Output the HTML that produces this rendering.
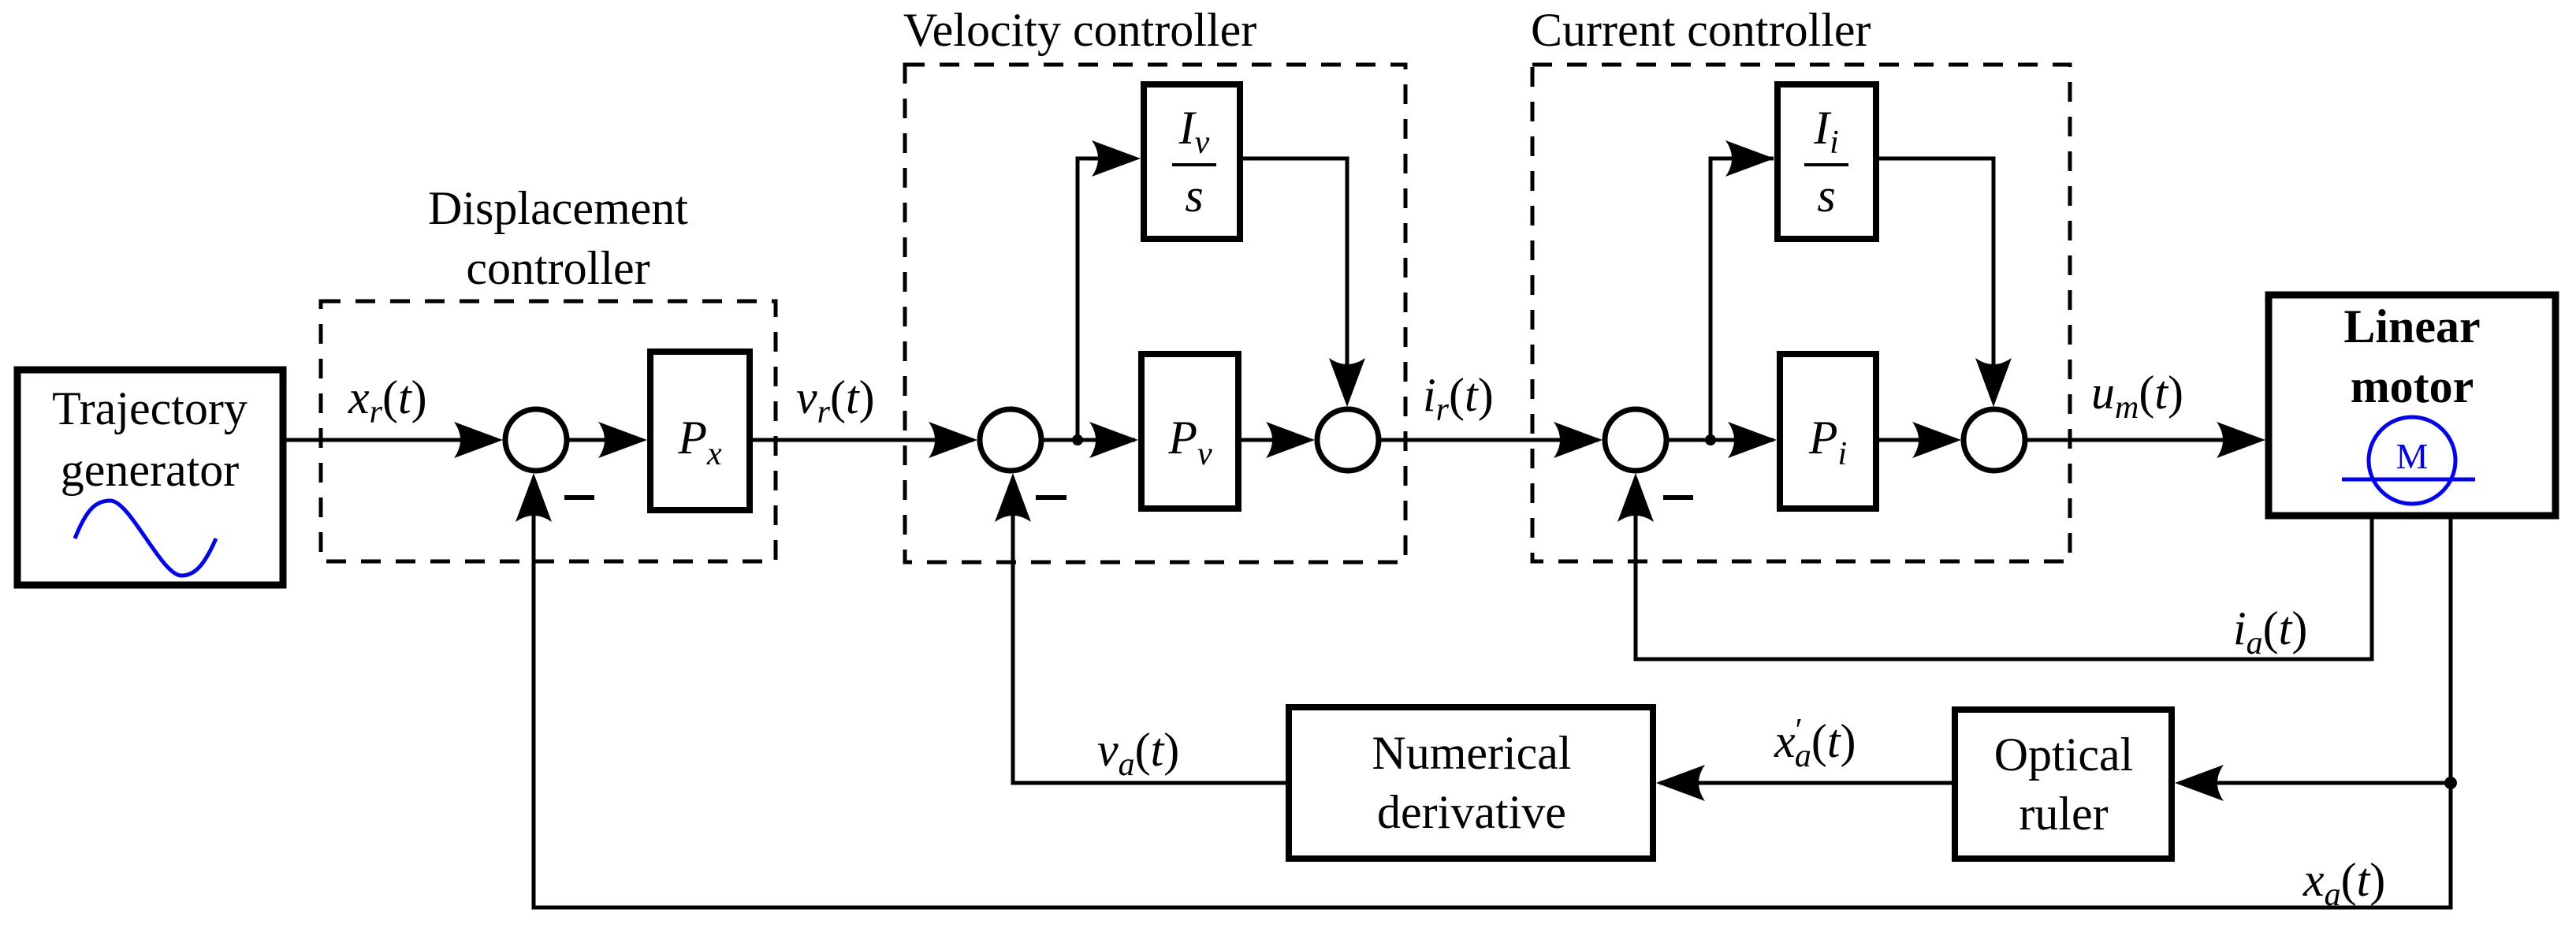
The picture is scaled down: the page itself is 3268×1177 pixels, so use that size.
<!DOCTYPE html>
<html><head><meta charset="utf-8"><style>
html,body{margin:0;padding:0;background:#fff;}
svg{display:block;}
svg, text, tspan{font-family:"Liberation Serif","DejaVu Serif",serif;}
text{fill:#000;}
.m{font-style:italic;}
.u{font-style:normal;}
</style></head><body>
<svg width="3268" height="1177" viewBox="0 0 3268 1177" xmlns="http://www.w3.org/2000/svg" font-family="Liberation Serif, DejaVu Serif, serif">
<defs>
<path id="ah" d="M0,0 L-62,-23 Q-46,0 -62,23 Z" fill="#000"/>
</defs>
<rect width="3268" height="1177" fill="#fff"/>

<g fill="none" stroke="#000" stroke-width="5" stroke-dasharray="25,19">
<rect x="407" y="382" width="577" height="330"/>
<rect x="1148" y="82" width="635" height="631"/>
<rect x="1944" y="82" width="682" height="630"/>
</g>

<g fill="none" stroke="#000">
<rect x="22" y="469" width="337" height="273" stroke-width="9"/>
<rect x="825" y="446" width="126" height="201" stroke-width="8"/>
<rect x="1451" y="107" width="122" height="196" stroke-width="8"/>
<rect x="1448" y="449" width="123" height="196" stroke-width="8"/>
<rect x="2255" y="107" width="125" height="196" stroke-width="8"/>
<rect x="2258" y="449" width="122" height="196" stroke-width="8"/>
<rect x="2878" y="374" width="364" height="280" stroke-width="9"/>
<rect x="2480" y="900" width="275" height="189" stroke-width="8"/>
<rect x="1635" y="897" width="462" height="192" stroke-width="8"/>
<circle cx="680" cy="558" r="39" stroke-width="7"/>
<circle cx="1282" cy="558" r="39" stroke-width="7"/>
<circle cx="1710" cy="558" r="39" stroke-width="7"/>
<circle cx="2075" cy="558" r="39" stroke-width="7"/>
<circle cx="2530" cy="558" r="39" stroke-width="7"/>
</g>

<g fill="none" stroke="#000" stroke-width="5">
<line x1="363" y1="558" x2="630" y2="558"/>
<line x1="722" y1="558" x2="815" y2="558"/>
<line x1="955" y1="558" x2="1235" y2="558"/>
<line x1="1324" y1="558" x2="1440" y2="558"/>
<polyline points="1367,558 1367,201 1440,201"/>
<line x1="1575" y1="558" x2="1660" y2="558"/>
<polyline points="1577,201 1709,201 1709,510"/>
<line x1="1752" y1="558" x2="2028" y2="558"/>
<line x1="2117" y1="558" x2="2250" y2="558"/>
<polyline points="2170,558 2170,201 2250,201"/>
<line x1="2384" y1="558" x2="2482" y2="558"/>
<polyline points="2384,201 2529,201 2529,510"/>
<line x1="2572" y1="558" x2="2868" y2="558"/>
<polyline points="3009,658 3009,836 2075,836 2075,606"/>
<polyline points="3109,658 3109,1151 677,1151 677,606"/>
<line x1="3109" y1="993" x2="2766" y2="993"/>
<line x1="2476" y1="993" x2="2106" y2="993"/>
<polyline points="1631,993 1285,993 1285,606"/>
</g>
<g fill="#000">
<circle cx="1367" cy="558" r="7"/>
<circle cx="2170" cy="558" r="7"/>
<circle cx="3109" cy="993" r="8"/>
<use href="#ah" transform="translate(638,558)"/>
<use href="#ah" transform="translate(821,558)"/>
<use href="#ah" transform="translate(1240,558)"/>
<use href="#ah" transform="translate(1444,558)"/>
<use href="#ah" transform="translate(1447,201)"/>
<use href="#ah" transform="translate(1668,558)"/>
<use href="#ah" transform="translate(1709,516) rotate(90)"/>
<use href="#ah" transform="translate(2033,558)"/>
<use href="#ah" transform="translate(2254,558)"/>
<use href="#ah" transform="translate(2251,201)"/>
<use href="#ah" transform="translate(2488,558)"/>
<use href="#ah" transform="translate(2529,516) rotate(90)"/>
<use href="#ah" transform="translate(2874,558)"/>
<use href="#ah" transform="translate(2075,600) rotate(-90)"/>
<use href="#ah" transform="translate(677,600) rotate(-90)"/>
<use href="#ah" transform="translate(1285,600) rotate(-90)"/>
<use href="#ah" transform="translate(2759,993) rotate(180)"/>
<use href="#ah" transform="translate(2101,993) rotate(180)"/>
<rect x="716" y="628" width="38" height="6"/>
<rect x="1314" y="628" width="39" height="6"/>
<rect x="2110" y="628" width="38" height="6"/>
</g>

<path d="M95,683 C110,645 122,635 140,635 C165,635 205,730 230,730 C248,730 260,715 274,683" fill="none" stroke="#0000ff" stroke-width="5"/>
<circle cx="3060" cy="584" r="55" fill="none" stroke="#0000ff" stroke-width="5"/>
<line x1="2971" y1="608" x2="3140" y2="608" stroke="#0000ff" stroke-width="5"/>
<text x="3060" y="594" font-size="46" text-anchor="middle" style="fill:#0000ff">M</text>

<g font-size="60">
<text x="708" y="284" text-anchor="middle">Displacement</text>
<text x="708" y="360" text-anchor="middle">controller</text>
<text x="1146" y="58">Velocity controller</text>
<text x="1942" y="58">Current controller</text>
<text x="190" y="538" text-anchor="middle">Trajectory</text>
<text x="190" y="616" text-anchor="middle">generator</text>
<text x="1867" y="975" text-anchor="middle">Numerical</text>
<text x="1867" y="1050" text-anchor="middle">derivative</text>
<text x="2618" y="977" text-anchor="middle">Optical</text>
<text x="2618" y="1052" text-anchor="middle">ruler</text>
<text x="3060" y="434" text-anchor="middle" font-weight="bold">Linear</text>
<text x="3060" y="510" text-anchor="middle" font-weight="bold">motor</text>
</g>

<g font-size="60">
<text x="888" y="575" class="m" text-anchor="middle">P<tspan font-size="42" dy="14">x</tspan></text>
<text x="1510" y="575" class="m" text-anchor="middle">P<tspan font-size="42" dy="14">v</tspan></text>
<text x="2319" y="575" class="m" text-anchor="middle">P<tspan font-size="42" dy="14">i</tspan></text>
<text x="1515" y="182" class="m" text-anchor="middle">I<tspan font-size="42" dy="12">v</tspan></text>
<line x1="1487" y1="209" x2="1543" y2="209" stroke="#000" stroke-width="4"/>
<text x="1515" y="268" class="m" text-anchor="middle">s</text>
<text x="2317" y="182" class="m" text-anchor="middle">I<tspan font-size="42" dy="12">i</tspan></text>
<line x1="2289" y1="209" x2="2345" y2="209" stroke="#000" stroke-width="4"/>
<text x="2317" y="268" class="m" text-anchor="middle">s</text>

<text x="442" y="524" class="m">x<tspan font-size="42" dy="12">r</tspan><tspan class="u" dy="-12">(</tspan>t<tspan class="u">)</tspan></text>
<text x="1010" y="524" class="m">v<tspan font-size="42" dy="12">r</tspan><tspan class="u" dy="-12">(</tspan>t<tspan class="u">)</tspan></text>
<text x="1805" y="521" class="m">i<tspan font-size="42" dy="12">r</tspan><tspan class="u" dy="-12">(</tspan>t<tspan class="u">)</tspan></text>
<text x="2653" y="518" class="m">u<tspan font-size="42" dy="12">m</tspan><tspan class="u" dy="-12">(</tspan>t<tspan class="u">)</tspan></text>
<text x="2833" y="817" class="m">i<tspan font-size="42" dy="12">a</tspan><tspan class="u" dy="-12">(</tspan>t<tspan class="u">)</tspan></text>
<text x="2251" y="960" class="m">x<tspan font-size="42" dy="-20" class="u">′</tspan><tspan font-size="42" dx="-10" dy="32">a</tspan><tspan class="u" dy="-12">(</tspan>t<tspan class="u">)</tspan></text>
<text x="1392" y="971" class="m">v<tspan font-size="42" dy="12">a</tspan><tspan class="u" dy="-12">(</tspan>t<tspan class="u">)</tspan></text>
<text x="2922" y="1136" class="m">x<tspan font-size="42" dy="12">a</tspan><tspan class="u" dy="-12">(</tspan>t<tspan class="u">)</tspan></text>
</g>
</svg>
</body></html>
